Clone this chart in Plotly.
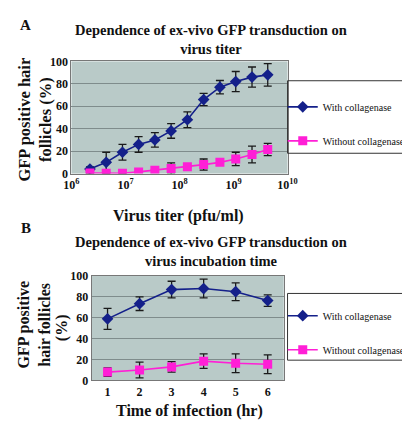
import plotly.graph_objects as go

W, H = 410, 422

# ---- Panel A data ----
titer = [2.2e6, 4.4e6, 8.8e6, 1.75e7, 3.5e7, 7e7, 1.4e8, 2.8e8, 5.6e8, 1.1e9, 2.2e9, 4.3e9]
a_with = [4, 10, 19, 26, 30, 38, 48, 66, 77, 82, 86, 88]
a_with_err = [2, 9, 7, 7, 6.5, 6.5, 7, 5.5, 6, 9, 9, 10]
a_without = [0.5, 0.3, 0.3, 1.5, 3, 4.5, 6, 8, 10, 13, 17, 21.5]
a_without_err = [0, 0, 0, 0, 0, 5, 0, 5, 0, 6, 7.5, 5.5]
a_xticks = [1e6, 1e7, 1e8, 1e9, 1e10]
a_xticktext = ["10<sup>6</sup>", "10<sup>7</sup>", "10<sup>8</sup>", "10<sup>9</sup>", "10<sup>10</sup>"]

# ---- Panel B data ----
hours = [1, 2, 3, 4, 5, 6]
b_with = [59, 73.5, 87, 88, 85, 76.5]
b_with_err = [10, 6.5, 8, 9, 8.5, 5.5]
b_without = [8, 10, 13, 18.5, 16.5, 15.5]
b_without_err = [4, 7.5, 5, 7, 9, 9]

y_ticks = [0, 20, 40, 60, 80, 100]

BLUE = "#14208a"
PINK = "#ff1fd6"
ERR = "#1a1a1a"
SERIF = "Liberation Serif, Times New Roman, serif"

def px_x(p):
    return p / W

def px_y(p):
    return 1 - p / H

fig = go.Figure()

def add_series(x, y, err, name, color, symbol, size, xa, ya, legend, group):
    fig.add_trace(go.Scatter(
        x=x, y=y, name=name, mode="lines+markers",
        line=dict(color=color, width=1.6),
        marker=dict(color=color, symbol=symbol, size=size),
        error_y=dict(type="data", array=err, color=ERR, thickness=1.3, width=4),
        xaxis=xa, yaxis=ya, legend=legend, legendgroup=group,
    ))

add_series(titer, a_with, a_with_err, "With collagenase", BLUE, "diamond", 9, "x", "y", "legend", "a1")
add_series(titer, a_without, a_without_err, "Without collagenase", PINK, "square", 9, "x", "y", "legend", "a2")
add_series(hours, b_with, b_with_err, "With collagenase", BLUE, "diamond", 9, "x2", "y2", "legend2", "b1")
add_series(hours, b_without, b_without_err, "Without collagenase", PINK, "square", 9, "x2", "y2", "legend2", "b2")

tickfont = dict(family=SERIF, size=12, color="#111", weight="bold")
PLOTBG = "#b9cac8"
GRID = "#7f8c8c"

yaxis_common = dict(range=[0, 100], tickvals=y_ticks, showgrid=True, gridcolor=GRID, gridwidth=1,
                    tickfont=tickfont, showline=True, linecolor="#777", linewidth=1, mirror=True,
                    ticks="", zeroline=False, fixedrange=True)

legfont = dict(family=SERIF, size=10, color="#111")

fig.update_layout(
    width=W, height=H, margin=dict(l=0, r=0, t=0, b=0),
    paper_bgcolor="white", plot_bgcolor=PLOTBG,
    font=dict(family=SERIF),
    xaxis=dict(type="log", range=[6, 10], domain=[px_x(58), px_x(284)], tickvals=a_xticks,
               ticktext=a_xticktext, tickfont=tickfont, showgrid=False, showline=True,
               linecolor="#777", mirror=True, ticks="", anchor="y", zeroline=False),
    yaxis=dict(domain=[px_y(164), px_y(48)], anchor="x", **yaxis_common),
    xaxis2=dict(range=[0.5, 6.5], domain=[px_x(79), px_x(280)], tickvals=hours, tickfont=tickfont,
                showgrid=False, showline=True, linecolor="#777", mirror=True, ticks="", anchor="y2",
                zeroline=False),
    yaxis2=dict(domain=[px_y(378), px_y(270)], anchor="x2", **yaxis_common),
    legend=dict(x=px_x(279), y=px_y(80), xanchor="left", yanchor="top", bgcolor="rgba(0,0,0,0)",
                font=legfont, tracegroupgap=15, itemwidth=30),
    legend2=dict(x=px_x(279), y=px_y(296), xanchor="left", yanchor="top", bgcolor="rgba(0,0,0,0)",
                 font=legfont, tracegroupgap=15, itemwidth=30),
    showlegend=True,
)

# legend boxes
fig.add_shape(type="rect", xref="paper", yref="paper", x0=px_x(284), x1=px_x(407),
              y0=px_y(143), y1=px_y(68), line=dict(color="#333", width=1), fillcolor="rgba(0,0,0,0)")
fig.add_shape(type="rect", xref="paper", yref="paper", x0=px_x(284), x1=px_x(407),
              y0=px_y(357), y1=px_y(288), line=dict(color="#333", width=1), fillcolor="rgba(0,0,0,0)")

def ann(text, x, y, size, angle=0, weight="bold"):
    fig.add_annotation(text=text, x=px_x(x), y=px_y(y), xref="paper", yref="paper",
                       showarrow=False, textangle=angle, xanchor="center", yanchor="middle",
                       font=dict(family=SERIF, size=size, color="#111", weight=weight))

ann("A", 10, 10, 15)
ann("B", 10, 220, 15)
ann("Dependence of ex-vivo GFP transduction on<br>virus titer", 204, 25, 14.5)
ann("Dependence of ex-vivo GFP transduction on<br>virus incubation time", 204, 245, 14.5)
ann("GFP positive hair<br>follicles (%)", 20, 108, 16.5, angle=-90)
ann("GFP positive<br>hair follicles", 19, 320, 16, angle=-90)
ann("(%)", 48, 323, 16, angle=-90)
ann("Virus titer (pfu/ml)", 170, 208, 16)
ann("Time of infection (hr)", 181, 410, 16)

fig.write_html("out.html")
